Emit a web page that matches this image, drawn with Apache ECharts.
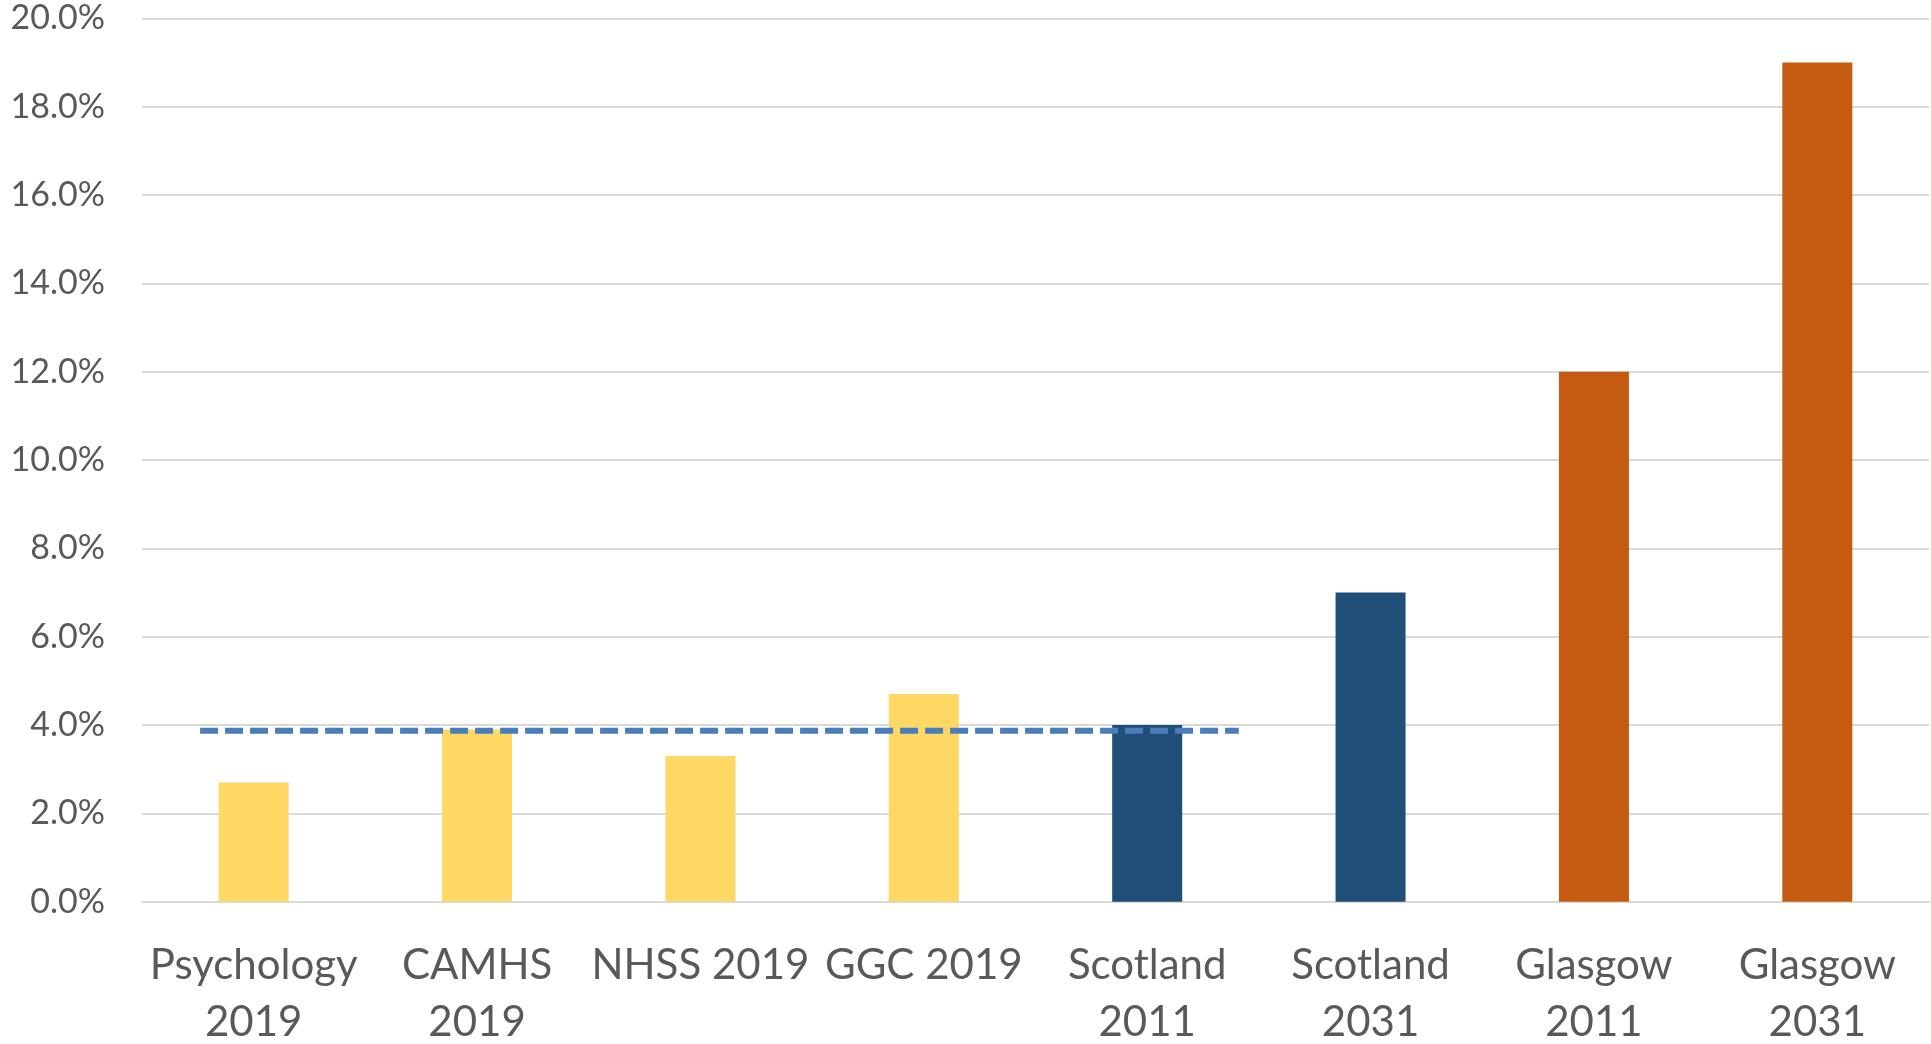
<!DOCTYPE html>
<html>
<head>
<meta charset="utf-8">
<script src="https://cdn.jsdelivr.net/npm/echarts@6/dist/echarts.min.js"></script>
<style>
  html, body { margin: 0; padding: 0; background: #fff; }
  #chart { width: 1931px; height: 1044px; }
</style>
</head>
<body>
<div id="chart"></div>
<script>
  // categories and values (percent)
  var categories = ['Psychology\n2019', 'CAMHS\n2019', 'NHSS 2019', 'GGC 2019',
                    'Scotland\n2011', 'Scotland\n2031', 'Glasgow\n2011', 'Glasgow\n2031'];
  var values = [2.7, 3.9, 3.3, 4.7, 4.0, 7.0, 12.0, 19.0];
  var barColors = ['#FDD865', '#FDD865', '#FDD865', '#FDD865',
                   '#1F4E79', '#1F4E79', '#C55A11', '#C55A11'];
  // dashed reference line: start/end in category units, level in percent
  var refLineX = [-0.24, 4.41];
  var refLineValue = 3.87;
  var yTicks = { min: 0, max: 20, step: 2 };

  var chart = echarts.init(document.getElementById('chart'));

  var option = {
    animation: false,
    grid: { left: 142, right: 2, top: 18.3, bottom: 142.3, containLabel: false, outerBoundsMode: 'none' },
    xAxis: [
      {
        type: 'category',
        data: categories,
        axisLine: { show: true, lineStyle: { color: '#D9D9D9', width: 2 } },
        axisTick: { show: false },
        axisLabel: {
          color: '#595959',
          fontFamily: 'Lato',
          fontSize: 42,
          lineHeight: 57,
          margin: 35,
          interval: 0
        }
      },
      {
        type: 'value',
        min: -0.5,
        max: 7.5,
        show: false
      }
    ],
    yAxis: {
      type: 'value',
      min: yTicks.min,
      max: yTicks.max,
      interval: yTicks.step,
      axisLine: { show: false },
      axisTick: { show: false },
      splitLine: { lineStyle: { color: '#D9D9D9', width: 2 } },
      axisLabel: {
        color: '#595959',
        fontFamily: 'Lato',
        fontSize: 34,
        margin: 37,
        formatter: function (v) { return v.toFixed(1) + '%'; }
      }
    },
    series: [
      {
        type: 'bar',
        xAxisIndex: 0,
        barWidth: 70,
        data: values.map(function (v, i) {
          return { value: v, itemStyle: { color: barColors[i] } };
        }),
        z: 2
      },
      {
        type: 'line',
        xAxisIndex: 1,
        data: refLineX.map(function (x) { return [x, refLineValue]; }),
        symbol: 'none',
        lineStyle: { color: '#4A7EBB', width: 6, type: [18, 7] },
        z: 5
      }
    ]
  };

  chart.setOption(option);
</script>
</body>
</html>
